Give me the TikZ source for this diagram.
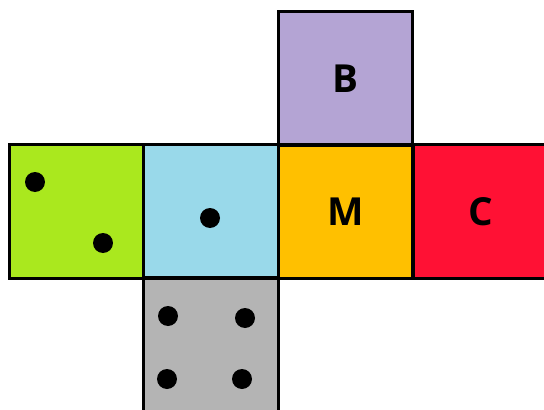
\documentclass[tikz,border=0pt]{standalone}
\usepackage{fontspec}
\setmainfont{Open Sans}
\usetikzlibrary{positioning}
\definecolor{lime}{RGB}{170,232,30}
\definecolor{sky}{RGB}{153,217,234}
\definecolor{gold}{RGB}{255,192,0}
\definecolor{scarlet}{RGB}{255,17,52}
\definecolor{lavender}{RGB}{180,164,212}
\definecolor{stone}{RGB}{180,180,180}

\begin{document}
\begin{tikzpicture}[
  x=0.02cm, y=-0.02cm,
  line width=1.6pt,
  face/.style={minimum size=2.69cm,inner sep=0pt,outer sep=0pt,font=\fontsize{22}{22}\selectfont\bfseries},
  pip/.style={circle,fill=black,minimum size=0.4cm,inner sep=0pt}
]%
  \useasboundingbox (0,0) rectangle (544,409);
  \begin{scope}
    \clip (0,0) rectangle (544,409);

    % the net of the cube
    \node[face,fill=lime]     (fL) at (76.5,211.5) {};
    \node[face,fill=sky]      (fF) at (211,211.5)  {};
    \node[face,fill=gold]     (fM) at (345.5,211.5) {M};
    \node[face,fill=scarlet]  (fC) at (480.5,211.5) {C};
    \node[face,fill=lavender] (fB) at (345.5,78.5) {B};
    \node[face,fill=stone]    (fD) at (211,345)    {};

    \foreach \f in {fL,fF,fM,fC,fB,fD}
      \draw (\f.north west) rectangle (\f.south east);

    % pips
    \node[pip] (p1) at (35,182)  {};
    \node[pip] (p2) at (103,243) {};
    \node[pip] (p3) at (210,218) {};
    \node[pip] (p4) at (168,316) {};
    \node[pip] (p5) at (245,318) {};
    \node[pip] (p6) at (167,379) {};
    \node[pip] (p7) at (242,379) {};
  \end{scope}
\end{tikzpicture}
\end{document}
